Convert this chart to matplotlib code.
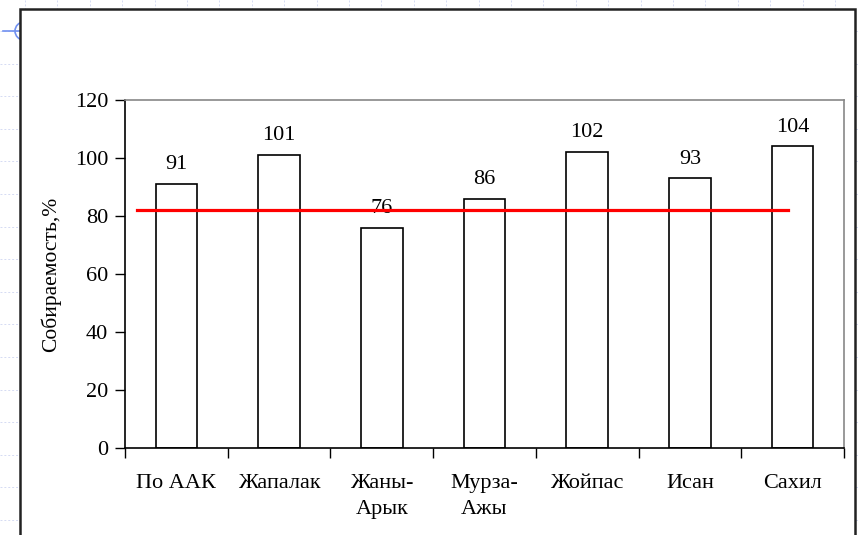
import matplotlib
matplotlib.use("Agg")
import matplotlib.pyplot as plt
import numpy as np
from matplotlib.patches import Rectangle, Circle

plt.rcParams['font.family'] = ['Liberation Serif', 'DejaVu Serif']

# data
districts = ["По ААК", "Жапалак", "Жаны-\nАрык", "Мурза-\nАжы", "Жойпас", "Исан", "Сахил"]
collect_pct = [91, 101, 76, 86, 102, 93, 104]
norm_level = 82
yticks = [0, 20, 40, 60, 80, 100, 120]

W, H = 858, 535
fig = plt.figure(figsize=(W / 100, H / 100), dpi=100)
fig.patch.set_facecolor("white")

# background: slide grid + frame
bg = fig.add_axes([0, 0, 1, 1], zorder=0)
bg.set_xlim(0, W)
bg.set_ylim(H, 0)
bg.axis("off")
for gy in np.arange(31, H, 32.6):
    bg.plot([0, W], [gy, gy], color="#d5dbf3", lw=0.7, ls=(0, (2, 2)))
for gx in np.arange(25, W, 32.4):
    bg.plot([gx, gx], [0, H], color="#d5dbf3", lw=0.7, ls=(0, (2, 2)))
bg.add_patch(Circle((24, 31), 9, fill=False, ec="#7090f0", lw=1.2))
bg.plot([3, 20], [31, 31], color="#7090f0", lw=1.2)
bg.add_patch(Rectangle((20, 9), 835, 540, fc="white", ec="#222222", lw=1.8, zorder=5))

ax = fig.add_axes([125 / W, 87 / H, 719 / W, 348 / H], zorder=2)
ax.set_facecolor("white")
x = np.arange(len(districts))
bars = ax.bar(x, collect_pct, width=0.405, color="white", edgecolor="black", linewidth=1.2, zorder=2)
for xi, v in zip(x, collect_pct):
    ax.annotate(str(v), (xi, v), xytext=(0, 7), textcoords="offset points",
                ha="center", va="bottom", fontsize=16, zorder=3)

ax.plot([-0.38, 5.95], [norm_level, norm_level], color="#ff0000", lw=2.3, zorder=4)

ax.set_xlim(-0.5, len(districts) - 0.5)
ax.set_ylim(0, 120)
ax.set_yticks(yticks)
ax.set_yticklabels([str(t) for t in yticks], fontsize=16)
ax.set_xticks(x)
ax.set_xticklabels(districts, fontsize=16, linespacing=1.45)
ax.tick_params(axis="x", length=0, pad=19)
ax.set_xticks(np.arange(-0.5, len(districts), 1), minor=True)
ax.tick_params(axis="x", which="minor", length=7, width=1, direction="out")
ax.tick_params(axis="y", length=7, width=1, direction="out", pad=5)
ax.set_ylabel("Собираемость,%", fontsize=15.5, labelpad=10)

for s in ["left", "bottom"]:
    ax.spines[s].set_color("black")
    ax.spines[s].set_linewidth(1.2)
for s in ["top", "right"]:
    ax.spines[s].set_color("#888888")
    ax.spines[s].set_linewidth(1.2)

fig.savefig("out.png", dpi=100)
